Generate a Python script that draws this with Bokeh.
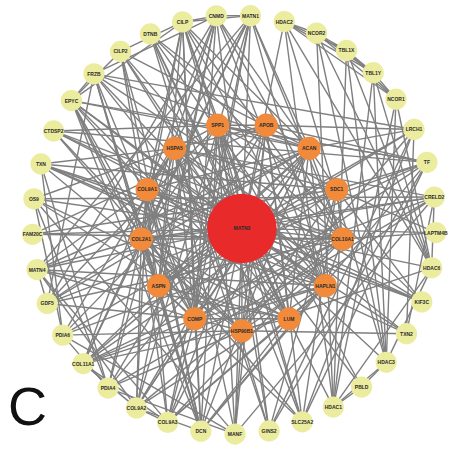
import numpy as np
from bokeh.plotting import figure
from bokeh.models import ColumnDataSource, Range1d
from bokeh.core.properties import value
from bokeh.embed import file_html
from bokeh.resources import INLINE

# ---------------- data ----------------
hub = "MATN3"
inner_nodes = ["HSP90B1", "COMP", "ASPN", "COL2A1", "COL9A1", "HSPA5", "SPP1",
               "APOB", "ACAN", "SDC1", "COL10A1", "HAPLN1", "LUM"]
outer_nodes = ["LAPTM4B", "HDAC6", "KIF3C", "TXN2", "HDAC3", "PBLD", "HDAC1",
               "SLC25A2", "GINS2", "MANF", "DCN", "COL9A3", "COL9A2", "PDIA4",
               "COL11A1", "PDIA6", "GDF5", "MATN4", "FAM20C", "OS9", "TXN",
               "CTDSP2", "EPYC", "FRZB", "CILP2", "DTNB", "CILP", "CNMD", "MATN1",
               "HDAC2", "NCOR2", "TBL1X", "TBL1Y", "NCOR1", "LRCH1", "TF", "CRELD2"]

hub_partners = inner_nodes + [n for n in outer_nodes
                              if n not in ("NCOR1", "NCOR2", "TBL1X", "TBL1Y")]

hdac_group = ["HDAC1", "HDAC2", "HDAC3", "HDAC6", "NCOR1", "NCOR2", "TBL1X", "TBL1Y"]
hdac_extra = [("PBLD", "HDAC1"), ("PBLD", "HDAC3")]

inner_links = {
    "COMP": ["ACAN", "COL2A1", "COL9A1", "COL10A1", "HAPLN1", "LUM", "ASPN", "HSPA5", "HSP90B1", "SPP1"],
    "ACAN": ["COL2A1", "COL9A1", "COL10A1", "HAPLN1", "LUM", "SDC1", "SPP1", "ASPN"],
    "COL2A1": ["COL9A1", "COL10A1", "HAPLN1", "LUM", "ASPN", "SPP1", "HSP90B1"],
    "COL9A1": ["COL10A1", "HAPLN1", "HSPA5"],
    "COL10A1": ["HAPLN1", "SPP1", "SDC1"],
    "HAPLN1": ["LUM"],
    "LUM": ["ASPN", "SPP1", "APOB"],
    "HSPA5": ["HSP90B1", "APOB", "SPP1", "SDC1", "ASPN"],
    "HSP90B1": ["APOB", "SDC1"],
    "SPP1": ["SDC1", "APOB"],
}

inner_outer_links = {
    "COMP": ["MATN1", "MATN4", "CILP", "CILP2", "CNMD", "COL9A2", "COL9A3", "COL11A1", "DCN", "EPYC", "FRZB", "GDF5", "TF"],
    "ACAN": ["MATN1", "MATN4", "CILP", "CILP2", "CNMD", "COL9A2", "COL9A3", "COL11A1", "DCN", "EPYC", "FRZB", "GDF5", "LRCH1"],
    "COL2A1": ["MATN1", "MATN4", "CILP", "CNMD", "COL9A2", "COL9A3", "COL11A1", "DCN", "EPYC", "FRZB", "GDF5", "PDIA4", "CRELD2"],
    "COL9A1": ["MATN1", "MATN4", "CILP", "CNMD", "COL9A2", "COL9A3", "COL11A1", "DCN", "EPYC", "KIF3C"],
    "COL10A1": ["MATN1", "CNMD", "COL9A2", "COL9A3", "COL11A1", "GDF5", "FRZB", "CILP", "LAPTM4B", "CTDSP2", "FAM20C"],
    "HAPLN1": ["MATN1", "MATN4", "CILP", "CILP2", "CNMD", "EPYC", "DCN", "COL9A2", "COL9A3", "COL11A1", "DTNB", "TXN"],
    "LUM": ["DCN", "EPYC", "COL11A1", "CILP", "CILP2", "FRZB", "COL9A3", "DTNB", "OS9", "MATN4"],
    "ASPN": ["DCN", "EPYC", "CILP", "CILP2", "FRZB", "CNMD", "TF", "LRCH1", "SLC25A2"],
    "HSPA5": ["PDIA4", "PDIA6", "OS9", "CRELD2", "MANF", "TXN", "GINS2", "TXN2", "KIF3C"],
    "HSP90B1": ["PDIA4", "PDIA6", "OS9", "CRELD2", "MANF", "TXN", "TXN2", "HDAC6", "CTDSP2", "LRCH1"],
    "SPP1": ["CILP", "DCN", "GDF5", "CTDSP2", "MANF", "SLC25A2", "GINS2", "TF", "PBLD"],
    "APOB": ["PDIA4", "PDIA6", "MANF", "LRCH1", "TF", "FAM20C", "SLC25A2", "DTNB"],
    "SDC1": ["TF", "LAPTM4B", "KIF3C", "SLC25A2", "GINS2", "TXN", "FAM20C", "COL11A1"],
}

outer_links = {
    "MATN1": ["MATN4", "CILP", "CNMD", "COL9A2", "COL9A3", "COL11A1"],
    "COL9A2": ["COL9A3", "COL11A1", "MATN4", "CNMD", "DCN"],
    "COL9A3": ["COL11A1", "MATN4"],
    "PDIA4": ["PDIA6", "CRELD2", "MANF", "OS9", "TXN"],
    "PDIA6": ["CRELD2", "MANF", "OS9", "TXN"],
    "CRELD2": ["MANF", "OS9", "TXN2", "HDAC6"],
    "OS9": ["MANF"],
    "TXN": ["TXN2", "KIF3C"],
    "EPYC": ["DCN", "FRZB", "CILP", "CILP2", "TF"],
    "CILP": ["CILP2", "CNMD", "DCN"],
    "FRZB": ["GDF5", "CNMD", "LRCH1"],
    "DCN": ["CILP2", "FRZB"],
    "GDF5": ["CNMD", "MATN4"],
    "CTDSP2": ["TF", "KIF3C", "SLC25A2"],
    "DTNB": ["GINS2", "SLC25A2", "KIF3C"],
    "LRCH1": ["GINS2", "SLC25A2", "TXN2"],
    "TF": ["SLC25A2", "GINS2", "DCN"],
}

panel_label = "C"

# ---------------- layout (circular) ----------------
pos = {}
pos[hub] = (250.0, 236.0)
n_out = len(outer_nodes)
for k, n in enumerate(outer_nodes):
    a = np.deg2rad(2.2 + k * 360.0 / n_out)
    pos[n] = (242.0 + 209.0 * np.cos(a), 232.0 + 217.0 * np.sin(a))
n_in = len(inner_nodes)
for k, n in enumerate(inner_nodes):
    a = np.deg2rad(90.0 + k * 360.0 / n_in)
    pos[n] = (250.0 + 105.0 * np.cos(a), 234.0 + 108.0 * np.sin(a))

pairs = [(hub, n) for n in hub_partners]
for i, a in enumerate(hdac_group):
    for b in hdac_group[i + 1:]:
        pairs.append((a, b))
pairs += hdac_extra
for d in (inner_links, inner_outer_links, outer_links):
    for a, bs in d.items():
        for b in bs:
            pairs.append((a, b))

edge_src = ColumnDataSource(dict(
    x0=[pos[a][0] for a, b in pairs], y0=[pos[a][1] for a, b in pairs],
    x1=[pos[b][0] for a, b in pairs], y1=[pos[b][1] for a, b in pairs]))

# ---------------- figure ----------------
p = figure(width=450, height=450, output_backend="svg", toolbar_location=None,
           x_range=Range1d(0, 466), y_range=Range1d(466, 0), min_border=0)
p.axis.visible = False
p.grid.visible = False
p.outline_line_color = None
p.background_fill_color = "white"

p.segment("x0", "y0", "x1", "y1", source=edge_src, line_color="#7f7f7f",
          line_width=1.4)

def draw_nodes(names, r, color):
    src = ColumnDataSource(dict(x=[pos[n][0] for n in names],
                                y=[pos[n][1] for n in names], name=names))
    p.circle("x", "y", radius=r, source=src, fill_color=color, line_color=None)
    p.text("x", "y", text="name", source=src, text_align="center",
           text_baseline="middle", text_font=value("Liberation Sans"),
           text_font_size="5px", text_font_style="bold", text_color="#2a2a2a")

draw_nodes(outer_nodes, 11.0, "#ecec9f")
draw_nodes(inner_nodes, 12.0, "#f28a3b")
draw_nodes([hub], 36, "#e82a2a")

p.text(x=[28], y=[420], text=[panel_label], text_align="center",
       text_baseline="middle", text_font=value("Liberation Sans"),
       text_font_size="54px", text_color="#111111")

open("out.html", "w").write(file_html(p, INLINE))
